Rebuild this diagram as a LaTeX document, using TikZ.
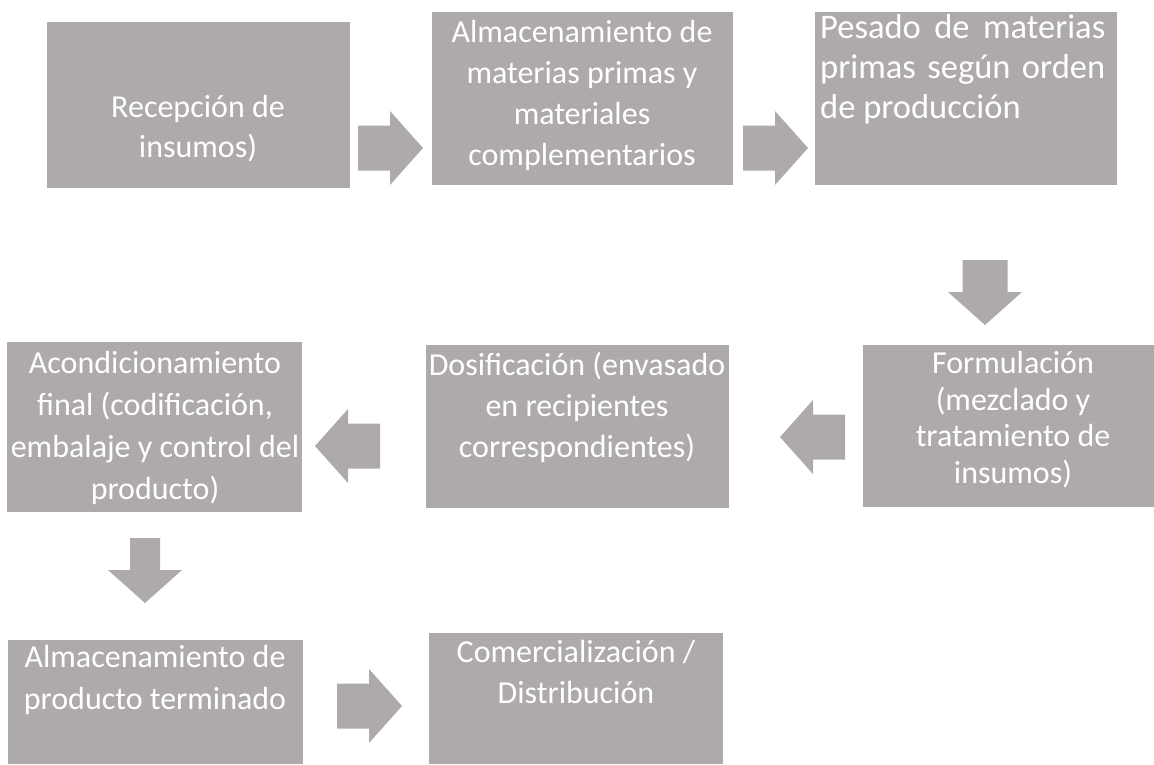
\documentclass[tikz,border=0pt]{standalone}
\usepackage{fontspec}
\setmainfont{Carlito}
\definecolor{boxgray}{RGB}{174,170,170}
\newcommand{\blkarrow}[3]{\fill[boxgray,shift={#1},rotate=#2] (0,-#3)--(32,-#3)--(32,-37)--(65,0)--(32,37)--(32,#3)--(0,#3)--cycle;}
\begin{document}
\begin{tikzpicture}[x=1pt,y=-1pt,
  box/.style={rectangle,fill=boxgray,draw=none,inner sep=0pt,anchor=north west},
  txt/.style={text=white,inner sep=0pt,font=\fontsize{32pt}{#1}\selectfont},
  txt/.default={41pt},
  ctxt/.style={txt=#1,align=center,anchor=base},
  ctxt/.default={41pt},
  ltxt/.style={txt=#1,align=left,anchor=base west},
  ltxt/.default={41pt}]
\useasboundingbox (0,0) rectangle (1154,764);
% boxes
\node[box,minimum width=303pt,minimum height=166pt] (b1) at (47,22) {};
\node[box,minimum width=301pt,minimum height=173pt] (b2) at (432,12) {};
\node[box,minimum width=302pt,minimum height=173pt] (b3) at (815,12) {};
\node[box,minimum width=291pt,minimum height=162pt] (b4) at (863,345) {};
\node[box,minimum width=303pt,minimum height=163pt] (b5) at (426,345) {};
\node[box,minimum width=295pt,minimum height=170pt] (b6) at (7,342) {};
\node[box,minimum width=295pt,minimum height=124pt] (b7) at (8,640) {};
\node[box,minimum width=294pt,minimum height=131pt] (b8) at (429,633) {};
% texts (anchored at the baseline of the last line)
\node[ctxt=40pt] (t1) at (198,157) {Recepción de\\insumos)};
\node[ctxt=41pt] (t2) at (582,165) {Almacenamiento de\\materias primas y\\materiales\\complementarios};
\node[ltxt=40pt,font=\fontsize{34.5pt}{40pt}\selectfont] (t3) at (820,118) {\makebox[285pt][s]{Pesado de materias}\\\makebox[285pt][s]{primas según orden}\\de producción};
\node[ctxt=36.5pt] (t4) at (1013,483) {Formulación\\(mezclado y\\tratamiento de\\insumos)};
\node[ctxt=41pt] (t5) at (577,457) {Dosificación (envasado\\en recipientes\\correspondientes)};
\node[ctxt=42pt] (t6) at (155,499) {Acondicionamiento\\final (codificación,\\embalaje y control del\\producto)};
\node[ctxt=42pt] (t7) at (155,709) {Almacenamiento de\\producto terminado};
\node[ctxt=41pt] (t8) at (576,703) {Comercialización /\\Distribución};
% block arrows
\coordinate (a1) at (358,148);
\coordinate (a2) at (743,148);
\coordinate (a3) at (985,260);
\coordinate (a4) at (845,437);
\coordinate (a5) at (380,446);
\coordinate (a6) at (145,538);
\coordinate (a7) at (337,706);
\blkarrow{(a1)}{0}{22.5}
\blkarrow{(a2)}{0}{22.5}
\blkarrow{(a3)}{-90}{22.5}
\blkarrow{(a4)}{180}{22.5}
\blkarrow{(a5)}{180}{22.5}
\blkarrow{(a6)}{-90}{15}
\blkarrow{(a7)}{0}{22.5}
\end{tikzpicture}
\end{document}
